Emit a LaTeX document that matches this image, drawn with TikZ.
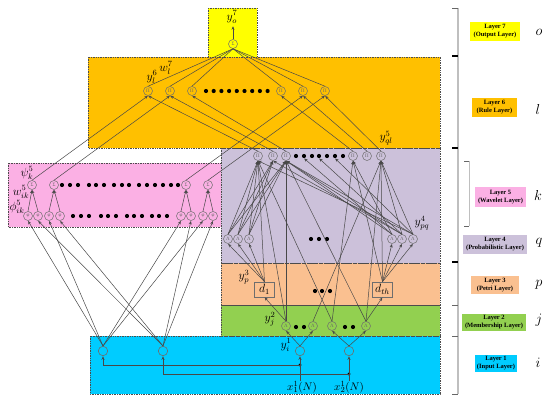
\documentclass[tikz,border=0pt]{standalone}
\usepackage{fontspec}
\setmainfont{Liberation Serif}
\usetikzlibrary{arrows.meta}
\definecolor{edgec}{HTML}{484848}
\definecolor{ringc}{HTML}{6E6E6E}
\definecolor{layerseven}{HTML}{FFFF00}
\definecolor{layersix}{HTML}{FFC000}
\definecolor{layerfive}{HTML}{FBB0E4}
\definecolor{layerfour}{HTML}{CCC1DA}
\definecolor{layerthree}{HTML}{FAC090}
\definecolor{layertwo}{HTML}{92D050}
\definecolor{layerone}{HTML}{00CCFF}
\tikzset{
  layerbox/.style={draw=black!70,densely dotted,line width=0.7pt},
  unit/.style={circle,draw=ringc,line width=0.5pt,minimum size=9pt,inner sep=0pt,text=black!60,font=\fontsize{5}{5}\selectfont},
  inunit/.style={circle,draw=ringc,line width=0.6pt,minimum size=9.5pt,inner sep=0pt},
  ddot/.style={circle,fill=black,minimum size=4.2pt,inner sep=0pt},
  pbox/.style={draw=ringc,line width=0.6pt,minimum width=20pt,minimum height=15pt,inner sep=0pt,font=\fontsize{12}{12}\selectfont},
  conn/.style={draw=edgec,line width=0.5pt},
  arr/.style={conn,-{Stealth[length=3.4pt,width=3pt]},shorten >=0.3pt},
  lab/.style={inner sep=0pt,font=\fontsize{12}{14}\selectfont},
  xlab/.style={inner sep=0pt,font=\fontsize{10.95}{13}\selectfont},
  leg/.style={inner sep=0pt,align=center,font=\fontsize{6.5}{8}\selectfont\bfseries},
  idx/.style={inner sep=0pt,font=\fontsize{14.4}{16}\selectfont},
  brack/.style={draw=black!25,line width=1.5pt},
  tick/.style={draw=black!60,line width=0.6pt},
  tickb/.style={draw=black,line width=1.2pt}
}
\begin{document}
\begin{tikzpicture}[x=1pt,y=-1pt]
\useasboundingbox (0,0) rectangle (550,402);
% layer backgrounds
\path[layerbox,fill=layerone] (90,336) rectangle (440,394);
\path[layerbox,fill=layertwo] (221,305) rectangle (440,336);
\path[layerbox,fill=layerthree] (221,263) rectangle (440,305);
\path[layerbox,fill=layerfour] (221,148) rectangle (440,263);
\path[layerbox,fill=layerfive] (8,163) rectangle (221,227);
\path[layerbox,fill=layersix] (88,57) rectangle (440,148);
\path[layerbox,fill=layerseven] (208,8) rectangle (257,57);
% layer 7
\node[unit] (sig) at (233,44) {Σ};
\coordinate (out) at (233,26);
% layer 6
\foreach \n/\x in {R1/148,R2/170,R3/192,R4/281,R5/303,R6/325}
  \node[unit] (\n) at (\x,91) {Π};
\foreach \x in {206,213.7,221.4,229.1,236.8,244.5,252.2,259.9,267.6}
  \node[ddot] at (\x,91) {};
% layer 5
\foreach \n/\x in {S1/32,S2/54,S3/186,S4/208}
  \node[unit] (\n) at (\x,185) {Σ};
\foreach \n/\x in {F1/28,F2/38,F3/49,F4/60,F5/181,F6/191,F7/203,F8/213}
  \node[unit] (\n) at (\x,216) {φ};
\foreach \x in {62,70,78,89,96,104,114,122,129,139,147,155,163,171,178}
  \node[ddot] at (\x,185) {};
\foreach \x in {73,81,89,101,108,116,127,134,142,152,159,167}
  \node[ddot] at (\x,216) {};
\foreach \n/\x in {P1/258,P2/273,P3/286,P4/353,P5/367,P6/381}
  \node[unit] (\n) at (\x,156) {Π};
\foreach \n/\x in {D1/296,D2/304,D3/312,D4/319,D5/327,D6/335,D7/343}
  \node[ddot] (\n) at (\x,156) {};
% layer 4
\foreach \n/\x in {L1/228,L2/238,L3/249,L4/392,L5/402,L6/413}
  \node[unit] (\n) at (\x,239) {Λ};
\foreach \x in {311,319,327}
  \node[ddot] at (\x,239) {};
% layer 3
\node[pbox] (d1) at (264.5,289.5) {$d_1$};
\node[pbox] (dt) at (382.5,289.5) {$d_{th}$};
\foreach \x in {315,322,330}
  \node[ddot] at (\x,291) {};
% layer 2
\foreach \n/\x in {G1/286,G2/313,G3/332,G4/366}
  \node[unit] (\n) at (\x,326) {Λ};
\foreach \x in {296,304,345,353}
  \node[ddot] at (\x,327) {};
% layer 1
\foreach \n/\x in {I1/300,I2/349,I3/103,I4/163}
  \node[inunit] (\n) at (\x,351) {};
\node[ddot,minimum size=3.4pt] (j1) at (300,365) {};
\node[ddot,minimum size=3.4pt] (j2) at (349,374) {};
\coordinate (b1) at (103,365);
\coordinate (b2) at (163,374);
\coordinate (x1) at (300,381);
\coordinate (x2) at (349,381);
% connectors
\draw[arr] (sig.north) -- (out);
\foreach \n in {R1,R2,R3,R4,R5,R6} \draw[conn] (\n.north) -- (sig.south);
\foreach \a/\b in {S1/R1,S2/R2,S3/R5,S4/R6,P1/R1,P2/R2,P3/R3,P4/R4,P5/R5,P6/R6,
  F1/S1,F2/S1,F3/S2,F4/S2,F5/S3,F6/S3,F7/S4,F8/S4,
  I3/F1,I3/F3,I3/F5,I3/F7,I4/F2,I4/F4,I4/F6,I4/F8,
  L1/P1,L1/P2,L1/P3,L2/P1,L2/P2,L2/P3,L3/P1,L3/P2,L3/P3,
  L6/P1,L5/P2,L4/P3,L5/P3,L6/P3,L4/D2,L5/D4,L6/D6,L4/P4,L5/P6,L6/P6,
  d1/L1,d1/L2,d1/L3,dt/L4,dt/L5,dt/L6,
  d1/P1,G1/P1,G1/P3,G2/P6,G3/P1,G3/P4,G4/P3,G4/P6,dt/P6,dt/P4,
  G1/d1,G4/dt,I1/G1,I1/G2,I2/G3,I2/G4}
  \draw[arr] (\a.north) -- (\b.south);
\draw[arr] (x1) -- (I1.south);
\draw[arr] (x2) -- (I2.south);
\draw[arr] (j1.center) -- (b1) -- (I3.south);
\draw[arr] (j2.center) -- (b2) -- (I4.south);
% labels on the net
\node[lab] (t1) at (232,17) {$y_o^7$};
\node[lab] (t2) at (152,77) {$y_l^6$};
\node[lab] (t3) at (166,68) {$w_l^7$};
\node[lab] (t4) at (386,138) {$y_{ql}^5$};
\node[lab] (t5) at (27,173) {$\psi_k^5$};
\node[lab] (t6) at (21,192) {$w_{ik}^5$};
\node[lab] (t7) at (17,207) {$\phi_{ik}^5$};
\node[lab] (t8) at (422,223) {$y_{pq}^4$};
\node[lab] (t9) at (244,277) {$y_p^3$};
\node[lab] (t10) at (270,319) {$y_j^2$};
\node[lab] (t11) at (286,345) {$y_i^1$};
\node[xlab] (t12) at (302,387) {$x_1^1(N)$};
\node[xlab] (t13) at (349,387) {$x_2^1(N)$};
% legend
\node[leg,fill=layerseven,minimum width=50pt,minimum height=19pt] (k7) at (495,31.5) {Layer 7\\(Output Layer)};
\node[leg,fill=layersix,minimum width=45pt,minimum height=19pt] (k6) at (494.5,107.5) {Layer 6\\(Rule Layer)};
\node[leg,fill=layerfive,minimum width=51pt,minimum height=20pt] (k5) at (500.5,197) {Layer 5\\(Wavelet Layer)};
\node[leg,fill=layerfour,minimum width=64pt,minimum height=19pt] (k4) at (495,244.5) {Layer 4\\(Probabilistic Layer)};
\node[leg,fill=layerthree,minimum width=48pt,minimum height=18pt] (k3) at (495,285) {Layer 3\\(Petri Layer)};
\node[leg,fill=layertwo,minimum width=64pt,minimum height=17pt] (k2) at (494,322.5) {Layer 2\\(Membership Layer)};
\node[leg,fill=layerone,minimum width=42pt,minimum height=17pt] (k1) at (496,363.5) {Layer 1\\(Input Layer)};
\node[idx] (io) at (539,32) {$o$};
\node[idx] (il) at (538,109) {$l$};
\node[idx] (ik) at (538,195) {$k$};
\node[idx] (iq) at (539,243) {$q$};
\node[idx] (ip) at (539,285) {$p$};
\node[idx] (ij) at (539,320) {$j$};
\node[idx] (ii) at (538,363) {$i$};
% brackets
\coordinate (bt) at (458,8);
\coordinate (bb) at (458,394);
\coordinate (ct) at (469,161);
\coordinate (cb) at (469,226);
\draw[brack] (bt) -- (bb);
\draw[brack,line width=1pt] (ct) -- (cb);
\foreach \y in {8,305,336,394} \draw[tick] (452,\y) -- (458,\y);
\foreach \y in {56,148,262} \draw[tickb] (452,\y) -- (458,\y);
\foreach \y in {161,226} \draw[tick] (464,\y) -- (469,\y);
\end{tikzpicture}
\end{document}
